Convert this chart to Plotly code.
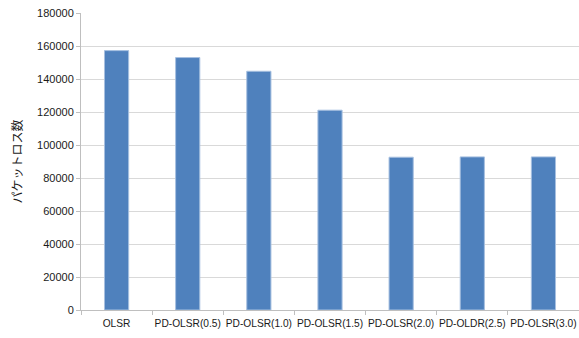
import plotly.graph_objects as go

# Packet loss count per routing protocol setting
categories = ["OLSR", "PD-OLSR(0.5)", "PD-OLSR(1.0)", "PD-OLSR(1.5)",
              "PD-OLSR(2.0)", "PD-OLDR(2.5)", "PD-OLSR(3.0)"]
packet_loss = [157200, 153000, 144700, 121100, 92600, 92800, 92800]
y_ticks = [0, 20000, 40000, 60000, 80000, 100000, 120000, 140000, 160000, 180000]

fig = go.Figure()
fig.add_trace(go.Bar(
    x=categories,
    y=packet_loss,
    marker=dict(color="#4F81BD", line=dict(color="#A7C0E0", width=1)),
    width=0.34,
))

fig.update_layout(
    width=579, height=338,
    margin=dict(l=81, r=0, t=13, b=28),
    paper_bgcolor="white",
    plot_bgcolor="white",
    showlegend=False,
    font=dict(family="Liberation Sans, Arial, sans-serif", size=11, color="#1a1a1a"),
    xaxis=dict(
        type="category",
        automargin=False,
        tickangle=0,
        showgrid=False,
        showline=True, linecolor="#BFBFBF", linewidth=1,
        ticks="outside", ticklen=4, tickcolor="#BFBFBF",
        tickson="boundaries",
        ticklabelstandoff=4,
        tickfont=dict(size=10.2),
    ),
    yaxis=dict(
        automargin=False,
        range=[0, 180000],
        tickvals=y_ticks,
        ticktext=[str(v) for v in y_ticks],
        showgrid=True, gridcolor="#D9D9D9", gridwidth=1,
        showline=True, linecolor="#BFBFBF", linewidth=1,
        ticks="outside", ticklen=4, tickcolor="#BFBFBF",
        zeroline=False,
        tickfont=dict(size=11),
        title=dict(text="パケットロス数",
                   font=dict(family="Noto Sans CJK JP", size=12, color="#1a1a1a"),
                   standoff=11),
    ),
)

fig.write_html("out.html")
